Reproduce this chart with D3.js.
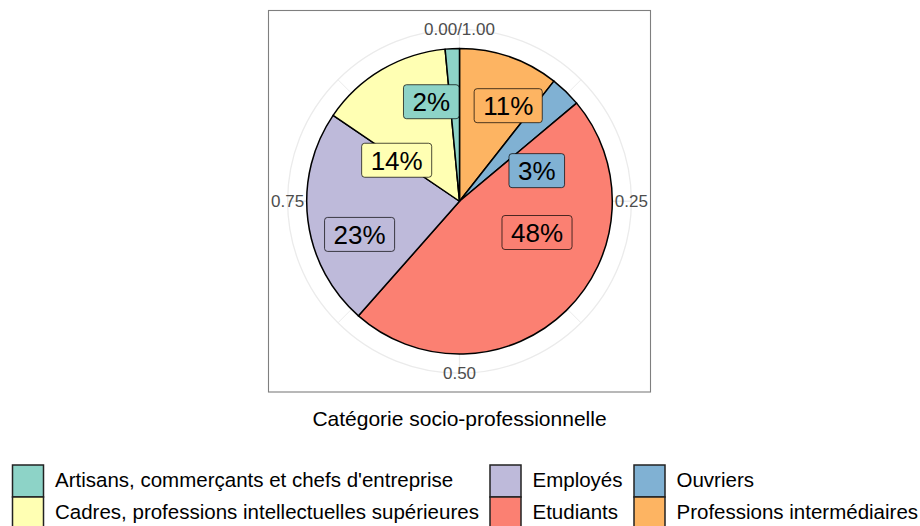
<!DOCTYPE html>
<html>
<head>
<meta charset="utf-8">
<script src="https://cdn.jsdelivr.net/npm/d3@7"></script>
<style>
  html, body { margin: 0; padding: 0; background: #fff; }
  svg { display: block; font-family: "Liberation Sans", Arial, Helvetica, sans-serif; }
</style>
</head>
<body>
<svg id="chart" width="920" height="526"></svg>
<script>
// ---- data ----
const categories = [
  "Artisans, commerçants et chefs d'entreprise",
  "Cadres, professions intellectuelles supérieures",
  "Employés",
  "Etudiants",
  "Ouvriers",
  "Professions intermédiaires"
];
const counts = [15, 140, 230, 476, 33, 106];
const colors = ["#8DD3C7", "#FFFFB3", "#BEBADA", "#FB8072", "#80B1D3", "#FDB462"];
const thetaBreaks = [0, 0.25, 0.5, 0.75];
const thetaMinor = [0.125, 0.375, 0.625, 0.875];
const thetaLabels = ["0.00/1.00", "0.25", "0.50", "0.75"];
const xTitle = "Catégorie socio-professionnelle";
// label anchor positions (repelled), in polar data units: theta fraction, radius fraction
const labelTheta = [0.956, 0.842, 0.699, 0.311, 0.190, 0.075];
const labelRadius = [0.677, 0.491, 0.689, 0.547, 0.544, 0.702];

// ---- layout ----
const svg = d3.select("#chart");
const panel = { x: 268.5, y: 10.5, w: 382, h: 381.5 };
const cx = panel.x + panel.w / 2, cy = panel.y + panel.h / 2;
const R = 0.4 * panel.w;       // pie radius
const Rg = 0.45 * panel.w;     // outer grid circle

const theta = d3.scaleLinear().domain([0, 1]).range([0, 2 * Math.PI]);
const rad = d3.scaleLinear().domain([0, 1]).range([0, R]);
const total = d3.sum(counts);
const pct = counts.map(c => Math.round(100 * c / total));

const g = svg.append("g").attr("transform", `translate(${cx},${cy})`);

// grid
const px = (t, r) => [r * Math.sin(theta(t)), -r * Math.cos(theta(t))];
g.selectAll("line.minor").data(thetaMinor).join("line")
  .attr("x1", 0).attr("y1", 0)
  .attr("x2", d => px(d, Rg)[0]).attr("y2", d => px(d, Rg)[1])
  .attr("stroke", "#EBEBEB").attr("stroke-width", 1);
g.selectAll("line.major").data(thetaBreaks).join("line")
  .attr("x1", 0).attr("y1", 0)
  .attr("x2", d => px(d, Rg)[0]).attr("y2", d => px(d, Rg)[1])
  .attr("stroke", "#EBEBEB").attr("stroke-width", 1.3);
g.append("circle").attr("r", Rg).attr("fill", "none")
  .attr("stroke", "#EBEBEB").attr("stroke-width", 1.3);

// pie: ggplot stacks last level first (clockwise from top)
const order = d3.range(categories.length).reverse();
const pie = d3.pie().sort(null).value(i => counts[i])
  .startAngle(0).endAngle(2 * Math.PI);
const arcs = pie(order);
const arc = d3.arc().innerRadius(0).outerRadius(rad(1));
g.selectAll("path.slice").data(arcs).join("path")
  .attr("class", "slice")
  .attr("d", arc)
  .attr("fill", d => colors[d.data])
  .attr("stroke", "#000").attr("stroke-width", 1.5)
  .attr("stroke-linejoin", "round");

// labels
const lab = g.selectAll("g.lab").data(d3.range(categories.length)).join("g")
  .attr("class", "lab")
  .attr("transform", i => {
    const p = px(labelTheta[i], rad(labelRadius[i]));
    return `translate(${p[0]},${p[1]})`;
  });
lab.each(function(i) {
  const sel = d3.select(this);
  const t = sel.append("text").text(pct[i] + "%")
    .attr("text-anchor", "middle").attr("dy", "0.36em")
    .attr("font-size", 26).attr("fill", "#000");
  const bb = t.node().getBBox();
  const padX = 9, h = 34;
  sel.insert("rect", "text")
    .attr("x", -bb.width / 2 - padX).attr("y", -h / 2)
    .attr("width", bb.width + 2 * padX).attr("height", h)
    .attr("rx", 3).attr("ry", 3)
    .attr("fill", colors[i]).attr("stroke", "#000").attr("stroke-width", 0.7);
});

// panel border
svg.append("rect").attr("x", panel.x).attr("y", panel.y)
  .attr("width", panel.w).attr("height", panel.h)
  .attr("fill", "none").attr("stroke", "#7F7F7F").attr("stroke-width", 1.1);

// theta labels
g.selectAll("text.tl").data(thetaBreaks).join("text")
  .attr("class", "tl")
  .attr("x", d => px(d, Rg)[0]).attr("y", d => px(d, Rg)[1])
  .attr("dy", "0.36em").attr("text-anchor", "middle")
  .attr("font-size", 17).attr("fill", "#4D4D4D")
  .text((d, i) => thetaLabels[i]);

// axis title
svg.append("text").attr("x", cx).attr("y", 426)
  .attr("text-anchor", "middle").attr("font-size", 21).attr("fill", "#000")
  .text(xTitle);

// legend: 2 rows, column-major
const colX = [12.5, 490, 634];
const rowY = [465, 497];
const keyW = 31, keyH = 32;
const leg = svg.append("g");
categories.forEach((c, i) => {
  const col = Math.floor(i / 2), row = i % 2;
  const x = colX[col], y = rowY[row];
  leg.append("rect").attr("x", x).attr("y", y).attr("width", keyW).attr("height", keyH)
    .attr("fill", colors[i]).attr("stroke", "#222").attr("stroke-width", 1.5);
  leg.append("text").attr("x", x + keyW + 11.5).attr("y", y + 21.5)
    .attr("font-size", 20.5).attr("fill", "#000").text(c);
});
</script>
</body>
</html>
